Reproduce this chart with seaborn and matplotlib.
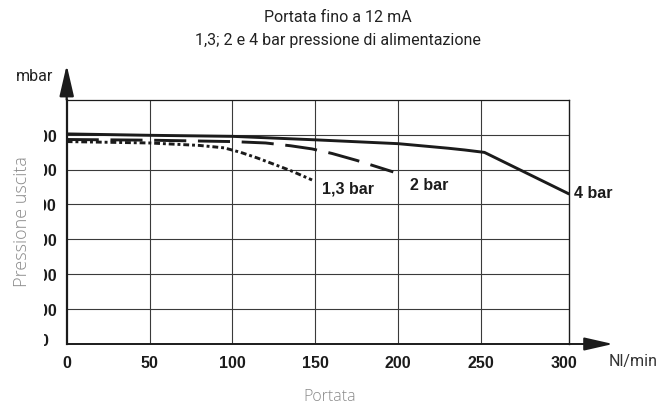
import numpy as np
import pandas as pd
import matplotlib
matplotlib.use("Agg")
import matplotlib.pyplot as plt
import seaborn as sns
from matplotlib.transforms import Bbox, TransformedBbox, IdentityTransform, ScaledTranslation

# ---- data ----
flow_13 = [0, 50, 80, 95, 105, 115, 125, 135, 148]
press_13 = [580, 576, 569, 562, 549, 533, 515, 497, 470]
flow_2 = [0, 50, 100, 120, 135, 148, 160, 175, 197]
press_2 = [586, 584, 580, 576, 568, 559, 546, 526, 493]
flow_4 = [0, 50, 100, 150, 200, 230, 240, 252, 303]
press_4 = [602, 598, 595, 585, 574, 561, 556, 549, 430]
series_labels = ["1,3 bar", "2 bar", "4 bar"]
x_ticks = [0, 50, 100, 150, 200, 250, 300]
y_ticks = [0, 100, 200, 300, 400, 500, 600]

W, H = 661, 410
sns.set_style("white")
plt.rcParams["font.family"] = ["Liberation Sans", "DejaVu Sans"]

fig = plt.figure(figsize=(W / 100, H / 100), dpi=100)
ax = fig.add_axes([66.7 / W, 1 - 345 / H, (569 - 66.7) / W, (345 - 100.7) / H])

ink = "#1b1b1b"
lw = 2.1
sns.lineplot(x=flow_4, y=press_4, ax=ax, color=ink, linewidth=lw, sort=False,
             solid_joinstyle="round")
sns.lineplot(x=flow_2, y=press_2, ax=ax, color=ink, linewidth=lw, sort=False,
             linestyle=(0, (11.0, 4.0)))
sns.lineplot(x=flow_13, y=press_13, ax=ax, color=ink, linewidth=lw, sort=False,
             linestyle=(0, (2.0, 1.0, 1.0, 1.0)))

ax.set_xlim(0, 303)
ax.set_ylim(0, 700)
ax.set_xticks(x_ticks)
ax.set_yticks(y_ticks)
ax.set_xticklabels([str(v) for v in x_ticks], fontsize=11.5, fontweight="bold", color=ink)
ax.set_yticklabels([str(v) for v in y_ticks], fontsize=11.5, fontweight="bold", color=ink)
ax.tick_params(axis="x", length=0, pad=8)
ax.tick_params(axis="y", length=0, pad=16.7)
for lab in ax.get_yticklabels():
    lab.set_ha("center")

ax.grid(True, color="#3a3a3a", linewidth=0.8)
ax.xaxis.get_major_ticks()[-1].gridline.set_visible(False)
ax.xaxis.get_major_ticks()[0].gridline.set_visible(False)
ax.yaxis.get_major_ticks()[0].gridline.set_visible(False)

for side, w in [("left", 1.6), ("bottom", 1.4), ("right", 1.0), ("top", 0.9)]:
    ax.spines[side].set_visible(True)
    ax.spines[side].set_color(ink)
    ax.spines[side].set_linewidth(w)

# axis arrows
ax.annotate("", xy=(0, (345 - 66) / 244.3), xytext=(0, 1.0), xycoords="axes fraction",
            arrowprops=dict(arrowstyle="-|>,head_length=0.95,head_width=0.22",
                            mutation_scale=20, color=ink, lw=1.6,
                            shrinkA=0, shrinkB=0), annotation_clip=False)
ax.annotate("", xy=((613 - 66.7) / 502.3, 0), xytext=(1.0, 0), xycoords="axes fraction",
            arrowprops=dict(arrowstyle="-|>,head_length=0.88,head_width=0.2",
                            mutation_scale=20, color=ink, lw=1.4,
                            shrinkA=0, shrinkB=0), annotation_clip=False)

# series labels
ax.text(153.8, 447, series_labels[0], fontsize=11.5, fontweight="bold", color=ink,
        ha="left", va="center", clip_on=False)
ax.text(206.8, 458, series_labels[1], fontsize=11.5, fontweight="bold", color=ink,
        ha="left", va="center", clip_on=False)
ax.text(306.2, 433, series_labels[2], fontsize=11.5, fontweight="bold", color=ink,
        ha="left", va="center", clip_on=False)

# texts
fam = ["Roboto", "DejaVu Sans"]
fig.text(338 / W, 1 - 17 / H, "Portata fino a 12 mA", ha="center", va="center",
         fontsize=11.5, color="#222222", family=fam)
fig.text(338 / W, 1 - 41 / H, "1,3; 2 e 4 bar pressione di alimentazione", ha="center",
         va="center", fontsize=11.5, color="#222222", family=fam)
fig.text(35 / W, 1 - 77 / H, "mbar", ha="center", va="center", fontsize=11.5,
         color="#222222", family=fam)
fig.text(633 / W, 1 - 362 / H, "Nl/min", ha="center", va="center", fontsize=11.5,
         color="#333333", family=fam)
fig.text(330 / W, 1 - 397 / H, "Portata", ha="center", va="center", fontsize=11.5,
         color="#8a8a8a", family=["Open Sans", "DejaVu Sans"], fontweight="light")
fig.text(22 / W, 1 - 222 / H, "Pressione uscita", ha="center", va="center", fontsize=13,
         rotation=90, color="#8a8a8a", family=["Open Sans", "DejaVu Sans"],
         fontweight="light")

# clip the y tick labels at the left edge as in the reference
clip = TransformedBbox(Bbox.from_extents(43.5, 0, W, H), IdentityTransform())
yticks_objs = ax.yaxis.get_major_ticks()
for t in yticks_objs:
    t.label1.set_clip_box(clip)
    t.label1.set_clip_on(True)
# the "0" label sits slightly above the axis in the reference
lab0 = yticks_objs[0].label1
lab0.set_transform(lab0.get_transform() + ScaledTranslation(0, 3.6 / 72, fig.dpi_scale_trans))

fig.savefig("out.png", dpi=100)
